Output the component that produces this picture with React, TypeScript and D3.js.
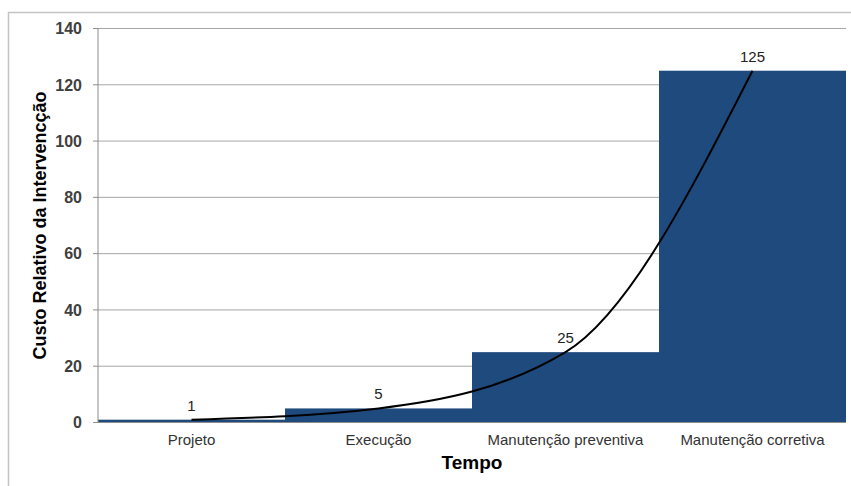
import React from "react";
import * as d3 from "d3";

const categories = ["Projeto", "Execução", "Manutenção preventiva", "Manutenção corretiva"];
const values = [1, 5, 25, 125];
const yTicks = [0, 20, 40, 60, 80, 100, 120, 140];
const yTitle = "Custo Relativo da Intervencção";
const xTitle = "Tempo";

export default function App() {
  const W = 851, H = 486;
  const left = 98, right = 846, top = 28.5, bottom = 422.5;
  const x = d3.scaleBand<string>().domain(categories).range([left, right]).padding(0);
  const y = d3.scaleLinear().domain([0, 140]).range([bottom, top]);
  const pts: [number, number][] = values.map((v, i) => [x(categories[i])! + x.bandwidth() / 2, y(v)]);
  const line = d3.line<[number, number]>().x(d => d[0]).y(d => d[1]).curve(d3.curveMonotoneX);
  const font = "'Liberation Sans', Arial, sans-serif";
  return (
    <svg width={W} height={H} style={{ position: "absolute", left: 0, top: 0, background: "#fff" }} fontFamily={font}>
      <rect x={8.5} y={12.5} width={900} height={600} fill="#fff" stroke="#c4c4c4" strokeWidth={1.5} />
      {yTicks.map(t => (
        <g key={t}>
          {t > 0 && <line x1={left} x2={right} y1={y(t)} y2={y(t)} stroke="#a6a6a6" strokeWidth={1} />}
          <line x1={left - 5} x2={left} y1={y(t)} y2={y(t)} stroke="#8c8c8c" strokeWidth={1} />
          <text x={82} y={y(t)} dy="0.36em" textAnchor="end" fontSize={16} fontWeight="bold" fill="#404040">{t}</text>
        </g>
      ))}
      {values.map((v, i) => (
        <rect key={i} x={x(categories[i])!} y={y(v)} width={x.bandwidth()} height={bottom - y(v)} fill="#1f4a7e" />
      ))}
      <line x1={left} x2={left} y1={top} y2={bottom} stroke="#8c8c8c" strokeWidth={1} />
      <line x1={left - 5} x2={right} y1={bottom} y2={bottom} stroke="#8c8c8c" strokeWidth={1} />
      <path d={line(pts)!} fill="none" stroke="#000" strokeWidth={2} />
      {values.map((v, i) => (
        <text key={i} x={pts[i][0]} y={y(v) - 9} textAnchor="middle" fontSize={15} fill="#222">{v}</text>
      ))}
      {categories.map(c => (
        <text key={c} x={x(c)! + x.bandwidth() / 2} y={445} textAnchor="middle" fontSize={15} fill="#333">{c}</text>
      ))}
      <text x={(left + right) / 2} y={469} textAnchor="middle" fontSize={19} fontWeight="bold" fill="#000">{xTitle}</text>
      <text transform={`translate(46,${(top + bottom) / 2}) rotate(-90)`} textAnchor="middle" fontSize={18} fontWeight="bold" fill="#000">{yTitle}</text>
    </svg>
  );
}
